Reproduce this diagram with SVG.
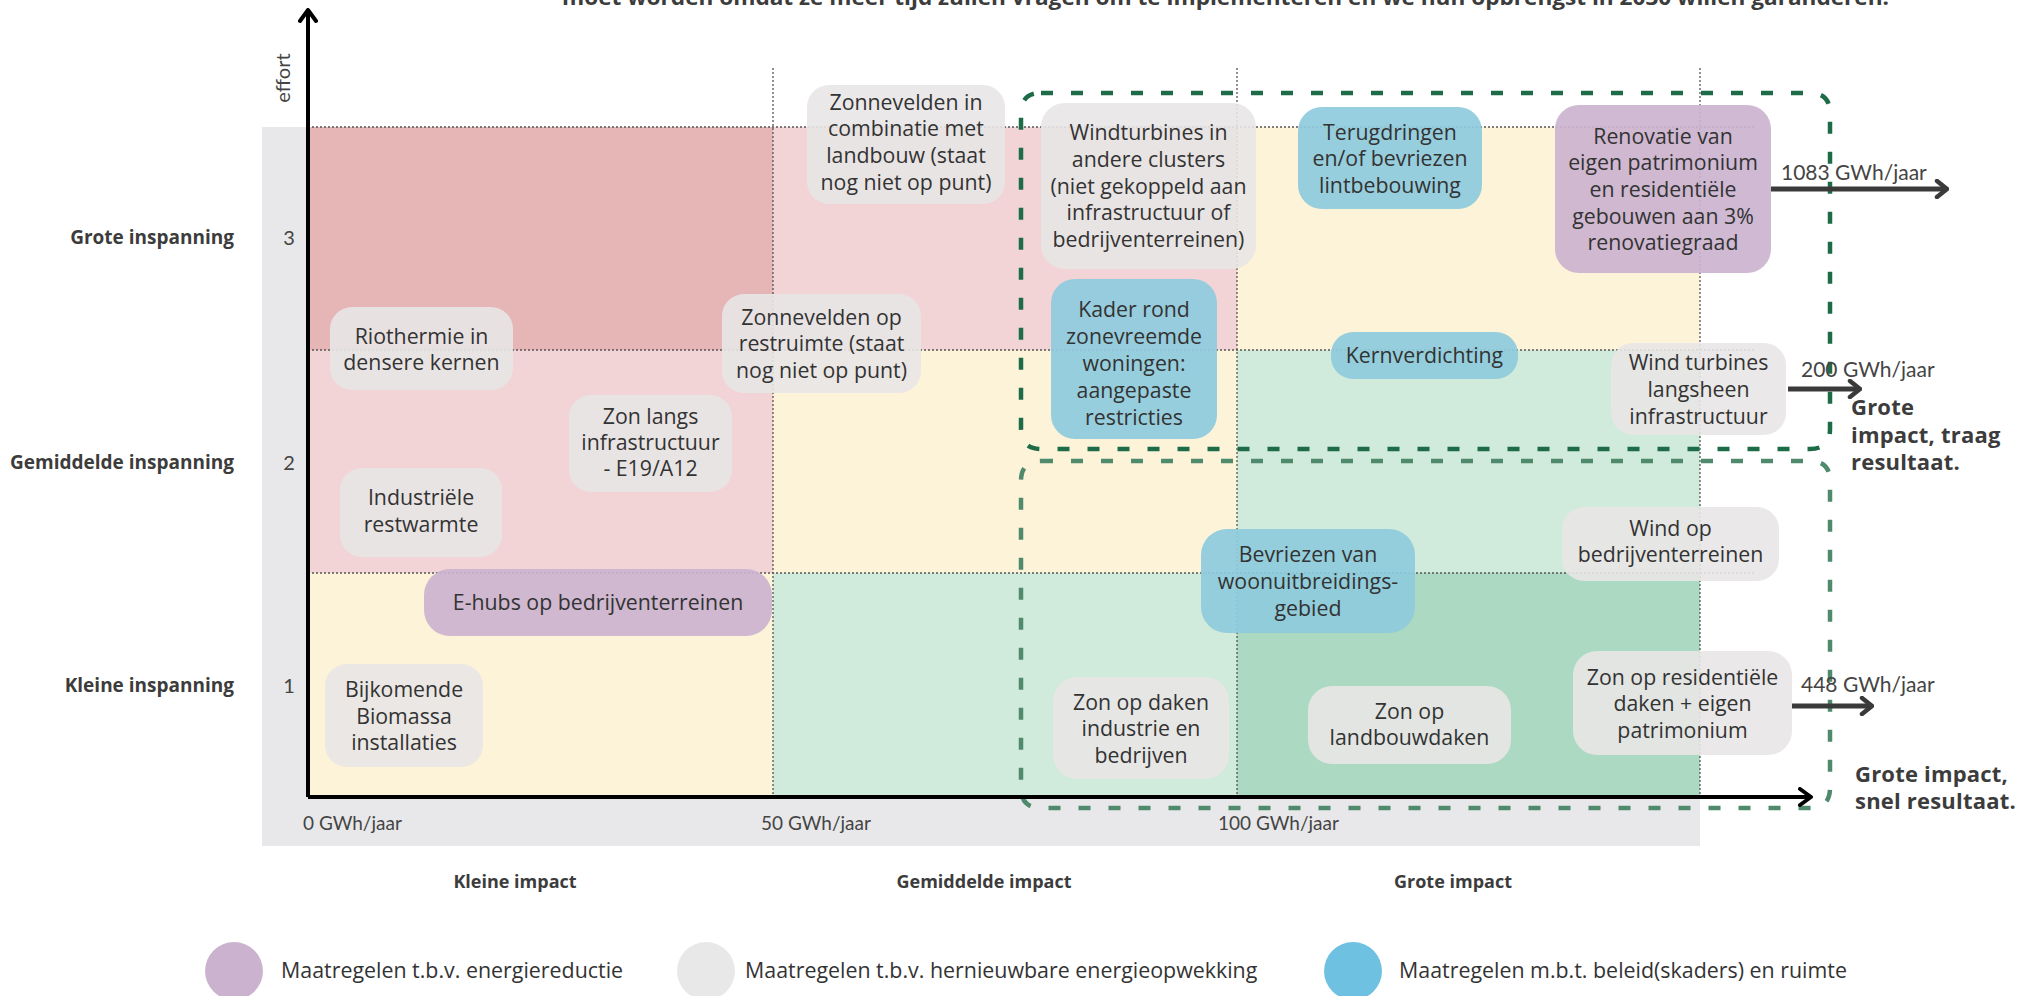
<svg xmlns="http://www.w3.org/2000/svg" width="2040" height="996" viewBox="0 0 2040 996">
<defs>
<style>
.t{font-family:"Open Sans","Noto Sans",sans-serif;font-size:21.3px;fill:#333;text-anchor:middle}
.b{font-family:"Open Sans","Noto Sans",sans-serif;font-weight:bold;fill:#3c3c3c}
.r{font-family:Lato,"Noto Sans",sans-serif;fill:#444}
.o{font-family:"Open Sans","Noto Sans",sans-serif;fill:#333}
.g{fill:#e8e6e5;opacity:.9}
.p{fill:#cbb3cf;opacity:.92}
.u{fill:#8ecbdd;opacity:.92}
.dot{stroke:#555;stroke-width:1.3;stroke-dasharray:2 2;fill:none}
.ax{stroke:#000;stroke-width:4;fill:none}
.ar{stroke:#3a3a3a;stroke-width:5;fill:none}
.dash{fill:none;stroke-width:4.5;stroke-dasharray:12 18}
</style>
<marker id="hk" viewBox="-14 -10 16 20" refX="0" refY="0" markerWidth="16" markerHeight="20" markerUnits="userSpaceOnUse" orient="auto">
<path d="M-11,-8 L0,0 L-11,8" fill="none" stroke="#000" stroke-width="4" stroke-linecap="round" stroke-linejoin="round"/>
</marker>
<marker id="hg" viewBox="-14 -10 16 20" refX="0" refY="0" markerWidth="16" markerHeight="20" markerUnits="userSpaceOnUse" orient="auto">
<path d="M-10,-8 L0,0 L-10,8" fill="none" stroke="#3a3a3a" stroke-width="4.5" stroke-linecap="round" stroke-linejoin="round"/>
</marker>
</defs>
<rect width="2040" height="996" fill="#fff"/>
<text class="b" x="562" y="5" font-size="22" fill="#4a4a4a" textLength="1327" lengthAdjust="spacingAndGlyphs">moet worden omdat ze meer tijd zullen vragen om te implementeren en we hun opbrengst in 2030 willen garanderen.</text>
<g id="grid">
<rect x="262" y="127" width="1438" height="719" fill="#e8e8ea"/>
<rect x="308" y="127" width="465" height="223" fill="#e6b5b6"/>
<rect x="773" y="127" width="464" height="223" fill="#f2d4d6"/>
<rect x="1237" y="127" width="463" height="223" fill="#fdf3d8"/>
<rect x="308" y="350" width="465" height="223" fill="#f2d4d6"/>
<rect x="773" y="350" width="464" height="223" fill="#fdf3d8"/>
<rect x="1237" y="350" width="463" height="223" fill="#d0eadb"/>
<rect x="308" y="573" width="465" height="224" fill="#fdf3d8"/>
<rect x="773" y="573" width="464" height="224" fill="#d0eadb"/>
<rect x="1237" y="573" width="463" height="224" fill="#acd9c1"/>
<path class="dot" d="M308,127H1755M308,350H1755M308,573H1755M773,68V797M1237,68V797M1700,68V797"/>
</g>
<g id="labels">
<text class="r" x="290" y="78" font-size="20" fill="#555" text-anchor="middle" transform="rotate(-90 290 78)">effort</text>
<text class="r" x="289" y="245" font-size="20" fill="#555" text-anchor="middle">3</text>
<text class="r" x="289" y="470" font-size="20" fill="#555" text-anchor="middle">2</text>
<text class="r" x="289" y="693" font-size="20" fill="#555" text-anchor="middle">1</text>
<text class="b" x="234" y="244" font-size="19" text-anchor="end">Grote inspanning</text>
<text class="b" x="234" y="469" font-size="19" text-anchor="end">Gemiddelde inspanning</text>
<text class="b" x="234" y="692" font-size="19" text-anchor="end">Kleine inspanning</text>
<text class="r" x="303" y="830" font-size="19">0 GWh/jaar</text>
<text class="r" x="761" y="830" font-size="19">50 GWh/jaar</text>
<text class="r" x="1218" y="830" font-size="19">100 GWh/jaar</text>
<text class="b" x="515" y="888" font-size="18" text-anchor="middle">Kleine impact</text>
<text class="b" x="984" y="888" font-size="18" text-anchor="middle">Gemiddelde impact</text>
<text class="b" x="1453" y="888" font-size="18" text-anchor="middle">Grote impact</text>
</g>
<g id="n1"><rect class="g" x="807" y="85" width="198" height="119" rx="22"/><text class="t"><tspan x="906" y="110">Zonnevelden in</tspan><tspan x="906" y="136">combinatie met</tspan><tspan x="906" y="163">landbouw (staat</tspan><tspan x="906" y="190">nog niet op punt)</tspan></text></g>
<g id="n2"><rect class="g" x="330" y="307" width="183" height="83" rx="22"/><text class="t"><tspan x="421.5" y="344">Riothermie in</tspan><tspan x="421.5" y="370">densere kernen</tspan></text></g>
<g id="n3"><rect class="g" x="722" y="294" width="199" height="99" rx="22"/><text class="t"><tspan x="821.5" y="325">Zonnevelden op</tspan><tspan x="821.5" y="351">restruimte (staat</tspan><tspan x="821.5" y="378">nog niet op punt)</tspan></text></g>
<g id="n4"><rect class="g" x="569" y="395" width="163" height="97" rx="22"/><text class="t"><tspan x="650.5" y="424">Zon langs</tspan><tspan x="650.5" y="450">infrastructuur</tspan><tspan x="650.5" y="476">- E19/A12</tspan></text></g>
<g id="n5"><rect class="g" x="340" y="468" width="162" height="89" rx="22"/><text class="t"><tspan x="421" y="505">Industriële</tspan><tspan x="421" y="532">restwarmte</tspan></text></g>
<g id="n6"><rect class="p" x="424" y="569" width="348" height="67" rx="26"/><text class="t" x="598" y="610">E-hubs op bedrijventerreinen</text></g>
<g id="n7"><rect class="g" x="325" y="664" width="158" height="103" rx="22"/><text class="t"><tspan x="404" y="697">Bijkomende</tspan><tspan x="404" y="724">Biomassa</tspan><tspan x="404" y="750">installaties</tspan></text></g>
<g id="n8"><rect class="g" x="1041" y="103" width="215" height="166" rx="24"/><text class="t"><tspan x="1148.5" y="140">Windturbines in</tspan><tspan x="1148.5" y="167">andere clusters</tspan><tspan x="1148.5" y="194">(niet gekoppeld aan</tspan><tspan x="1148.5" y="220">infrastructuur of</tspan><tspan x="1148.5" y="247">bedrijventerreinen)</tspan></text></g>
<g id="n9"><rect class="u" x="1298" y="107" width="184" height="102" rx="24"/><text class="t"><tspan x="1390" y="140">Terugdringen</tspan><tspan x="1390" y="166">en/of bevriezen</tspan><tspan x="1390" y="193">lintbebouwing</tspan></text></g>
<g id="n10"><rect class="p" x="1555" y="105" width="216" height="168" rx="24"/><text class="t"><tspan x="1663" y="144">Renovatie van</tspan><tspan x="1663" y="170">eigen patrimonium</tspan><tspan x="1663" y="197">en residentiële</tspan><tspan x="1663" y="224">gebouwen aan 3%</tspan><tspan x="1663" y="250">renovatiegraad</tspan></text></g>
<g id="n11"><rect class="u" x="1051" y="279" width="166" height="160" rx="24"/><text class="t"><tspan x="1134" y="317">Kader rond</tspan><tspan x="1134" y="344">zonevreemde</tspan><tspan x="1134" y="371">woningen:</tspan><tspan x="1134" y="398">aangepaste</tspan><tspan x="1134" y="425">restricties</tspan></text></g>
<g id="n12"><rect class="u" x="1331" y="332" width="187" height="47" rx="22"/><text class="t" x="1424.5" y="363">Kernverdichting</text></g>
<g id="n13"><rect class="g" x="1611" y="343" width="175" height="92" rx="22"/><text class="t"><tspan x="1698.5" y="370">Wind turbines</tspan><tspan x="1698.5" y="397">langsheen</tspan><tspan x="1698.5" y="424">infrastructuur</tspan></text></g>
<g id="n14"><rect class="u" x="1201" y="529" width="214" height="104" rx="26"/><text class="t"><tspan x="1308" y="562">Bevriezen van</tspan><tspan x="1308" y="589">woonuitbreidings-</tspan><tspan x="1308" y="616">gebied</tspan></text></g>
<g id="n15"><rect class="g" x="1562" y="507" width="217" height="74" rx="22"/><text class="t"><tspan x="1670.5" y="536">Wind op</tspan><tspan x="1670.5" y="562">bedrijventerreinen</tspan></text></g>
<g id="n16"><rect class="g" x="1573" y="651" width="219" height="104" rx="24"/><text class="t"><tspan x="1682.5" y="685">Zon op residentiële</tspan><tspan x="1682.5" y="711">daken + eigen</tspan><tspan x="1682.5" y="738">patrimonium</tspan></text></g>
<g id="n17"><rect class="g" x="1053" y="677" width="176" height="102" rx="24"/><text class="t"><tspan x="1141" y="710">Zon op daken</tspan><tspan x="1141" y="736">industrie en</tspan><tspan x="1141" y="763">bedrijven</tspan></text></g>
<g id="n18"><rect class="g" x="1308" y="686" width="203" height="78" rx="24"/><text class="t"><tspan x="1409.5" y="719">Zon op</tspan><tspan x="1409.5" y="745">landbouwdaken</tspan></text></g>
<g id="zones">
<path class="dash" stroke="#1e6b48" d="M1041,93H1810Q1830,93 1830,113V429Q1830,449 1810,449H1041Q1021,449 1021,429V113Q1021,93 1041,93Z"/>
<path class="dash" stroke="#4f8a6d" d="M1041,461H1810Q1830,461 1830,481V788Q1830,808 1810,808H1041Q1021,808 1021,788V481Q1021,461 1041,461Z"/>
<text class="b" font-size="22" fill="#444" letter-spacing="0.2"><tspan x="1851" y="415">Grote</tspan><tspan x="1851" y="443">impact, traag</tspan><tspan x="1851" y="470">resultaat.</tspan></text>
<text class="b" font-size="22" fill="#444" letter-spacing="0.2"><tspan x="1855" y="782">Grote impact,</tspan><tspan x="1855" y="809">snel resultaat.</tspan></text>
</g>
<g id="connectors">
<path class="ax" d="M308,797V10" marker-end="url(#hk)"/>
<path class="ax" d="M308,797H1811" marker-end="url(#hk)"/>
<path class="ar" d="M1771,189H1947" marker-end="url(#hg)"/>
<path class="ar" d="M1788,389H1860" marker-end="url(#hg)"/>
<path class="ar" d="M1792,706H1872" marker-end="url(#hg)"/>
<text class="r" x="1781" y="180" font-size="21" fill="#333">1083 GWh/jaar</text>
<text class="r" x="1801" y="377" font-size="21" fill="#333">200 GWh/jaar</text>
<text class="r" x="1801" y="692" font-size="21" fill="#333">448 GWh/jaar</text>
</g>
<g id="legend">
<circle cx="234" cy="971" r="29" fill="#cbb3cf"/>
<text class="o" x="281" y="978" font-size="21.4">Maatregelen t.b.v. energiereductie</text>
<circle cx="706" cy="971" r="29" fill="#e9e8e8"/>
<text class="o" x="745" y="978" font-size="21.4">Maatregelen t.b.v. hernieuwbare energieopwekking</text>
<circle cx="1353" cy="971" r="29" fill="#6ec1e1"/>
<text class="o" x="1399" y="978" font-size="21.4">Maatregelen m.b.t. beleid(skaders) en ruimte</text>
</g>
</svg>
